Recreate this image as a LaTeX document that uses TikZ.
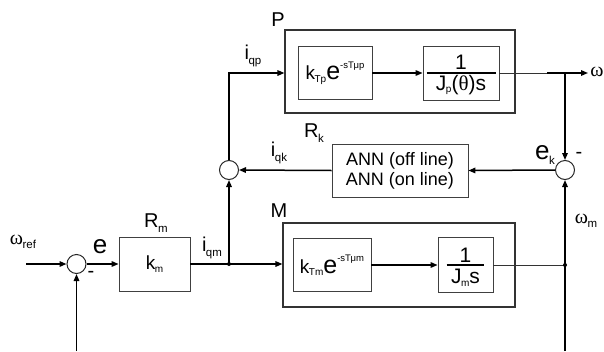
\documentclass[tikz,border=0pt]{standalone}
\usepackage{fontspec}
\setmainfont{Liberation Sans}
\newfontfamily\grk{Liberation Serif}
\usetikzlibrary{arrows.meta}
\newcommand\sbx[1]{\kern-0.5pt\raisebox{-0.22em}{\fontsize{11.5}{12}\selectfont #1}}
\newcommand\sbs[1]{\kern-0.5pt\raisebox{-0.12em}{\fontsize{10}{10}\selectfont #1}}
\newcommand\spx[1]{\raisebox{0.62em}{\fontsize{9.5}{10}\selectfont #1}}
\newcommand\bige{{\fontsize{26}{26}\selectfont e}}
\begin{document}
\begin{tikzpicture}[x=1pt,y=-1pt,
  every node/.style={font=\fontsize{20}{22}\selectfont, inner sep=0pt},
  inbox/.style={draw=black!75, line width=0.8pt},
  outbox/.style={draw=black!80, line width=1.1pt},
  sig/.style={line width=1.5pt, -{Triangle[length=7pt,width=5.5pt]}},
  wire/.style={line width=1.5pt},
  thinwire/.style={line width=0.8pt, draw=black!80},
  fracbar/.style={line width=1.3pt},
  sumj/.style={circle, draw=black!85, line width=1pt, minimum size=19pt},
  jdot/.style={circle, fill=black, minimum size=4pt, inner sep=0pt},
  fracfont/.style={font=\fontsize{21}{23}\selectfont},
  blkfont/.style={font=\fontsize{19}{21}\selectfont},
  annfont/.style={font=\fontsize{18}{20}\selectfont}
]
\useasboundingbox (0,0) rectangle (604,351);

% outer blocks
\node[outbox, minimum width=230pt, minimum height=83pt] (P) at (400,71.5) {};
\node[outbox, minimum width=232pt, minimum height=84pt] (M) at (399,265) {};

% inner blocks
\node[inbox, blkfont, minimum width=74pt, minimum height=53pt] (kTp) at (335,73) {k\sbs{Tp}{\fontsize{25}{25}\selectfont e}\spx{-sT\kern-0.3ptμp}};
\node[inbox, minimum width=76pt, minimum height=54pt] (pj) at (461,73) {};
\node[fracfont] (pjn) at (461,62) {1};
\node[fracfont] (pjd) at (461,85) {J\sbs{p}({\grk θ})s};
\draw[fracbar] ([xshift=4pt]pj.west) -- ([xshift=-3pt]pj.east);

\node[inbox, blkfont, minimum width=78pt, minimum height=53pt] (kTm) at (332,265) {k\sbs{Tm}{\fontsize{25}{25}\selectfont e}\spx{-sT\kern-0.3ptμm}};
\node[inbox, minimum width=55pt, minimum height=55pt] (mj) at (465.5,265) {};
\node[fracfont] (mjn) at (465.5,255) {1};
\node[fracfont] (mjd) at (465.5,278) {J\sbs{m}s};
\draw[fracbar] ([xshift=9pt]mj.west) -- ([xshift=-9pt]mj.east);

\node[inbox, annfont, minimum width=136pt, minimum height=53pt, align=center] (ANN) at (400,170.5) {ANN (off line)\\[0pt]ANN (on line)};
\node[inbox, blkfont, minimum width=71pt, minimum height=54pt] (Rm) at (154.5,264) {k\sbs{m}};

% summing junctions
\node[sumj] (se) at (76.5,264) {};
\node[sumj] (sk) at (229,170) {};
\node[sumj] (sek) at (565,170) {};

% coordinates
\coordinate (wref) at (26,264);
\coordinate (be) at (76.5,351);
\coordinate (bm) at (565,351);
\coordinate (jq) at (229,264);
\coordinate (jw) at (547,73);
\coordinate (jt) at (565,73);
\coordinate (wout) at (588,73);
\coordinate (jm) at (565,265);

% connectors
\draw[sig] (wref) -- (se.west);
\draw[sig] (se.east) -- (Rm.west);
\draw[wire] (Rm.east) -- (jq);
\draw[sig] (jq) -- (jq -| M.west);
\draw[sig] (jq) -- (sk.south);
\draw[sig] (sk.north) |- (kTp.west -| P.west);
\draw[sig] (kTp.east) -- (pj.west);
\draw[thinwire] (pj.east) -- (jw);
\draw[sig] (jw) -- (wout);
\draw[sig] (jt) -- (sek.north);
\draw[sig] (sek.west) -- (ANN.east);
\draw[sig] (ANN.west) -- (sk.east);
\draw[sig] (kTm.east) -- (mj.west);
\draw[thinwire] (mj.east) -- (jm);
\draw[sig] (bm) -- (sek.south);
\draw[sig] (be) -- (se.south);
\node[jdot] (d1) at (jq) {};
\node[jdot] (d2) at (jm) {};

% labels
\node (lP) at (278,20) {P};
\node (lM) at (279,211) {M};
\node (liqp) at (253,56) {i\sbx{qp}};
\node (liqk) at (279,153) {i\sbx{qk}};
\node (lRk) at (314,133) {R\sbx{k}};
\node (lek) at (545,155) {\bige\sbx{k}};
\node (lmk) at (579,155) {-};
\node (lw) at (597,72) {\grk ω};
\node (lwm) at (586,221) {{\grk ω}\sbx{m}};
\node (lRm) at (156,223) {R\sbx{m}};
\node (liqm) at (212,248) {i\sbx{qm}};
\node (le) at (100,247) {\bige};
\node (lme) at (91,274) {-};
\node (lwref) at (23,242) {{\grk ω}\sbx{ref}};
\end{tikzpicture}
\end{document}
